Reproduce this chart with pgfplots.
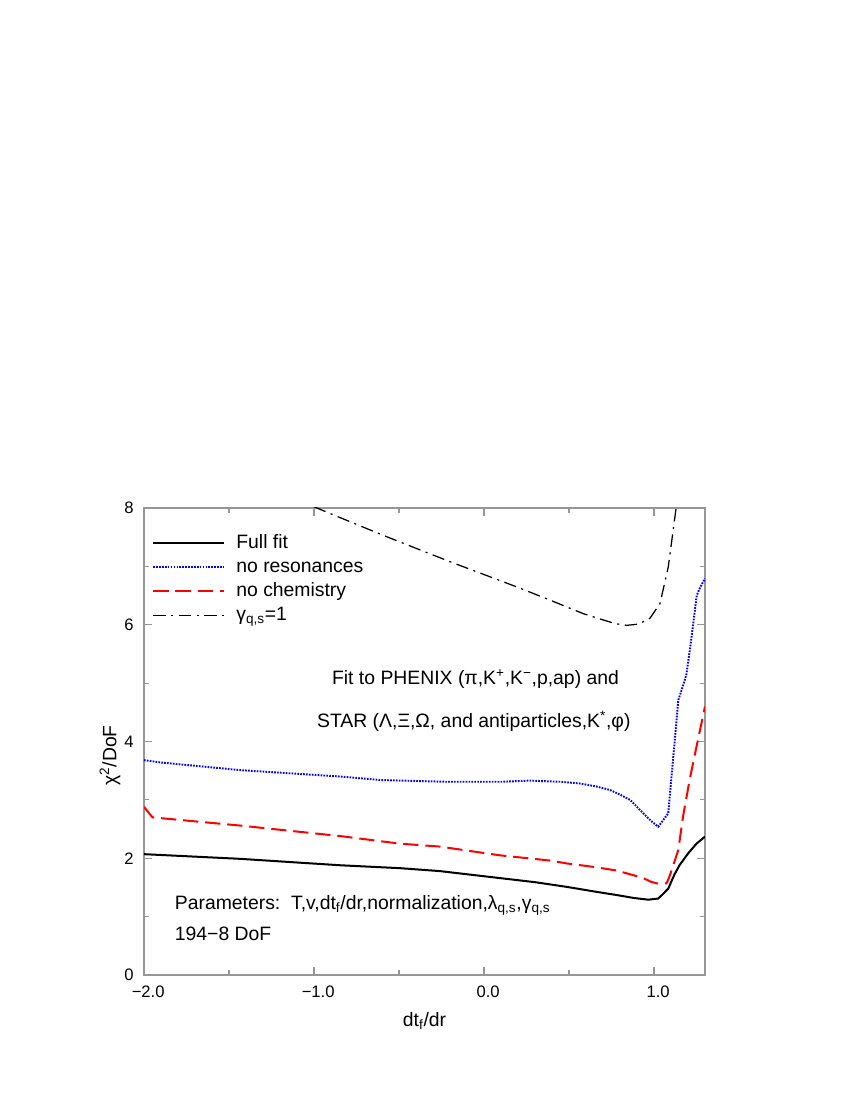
\documentclass[border=0pt]{standalone}
\usepackage{fontspec}
\setmainfont{Liberation Sans}
\usepackage{pgfplots}
\pgfplotsset{compat=1.18}
\definecolor{axgray}{RGB}{150,150,150}
\definecolor{curveblue}{RGB}{0,0,255}
\definecolor{curvered}{RGB}{255,0,0}

\begin{document}
\begin{tikzpicture}[font=\fontsize{14}{16.5}\selectfont]
\begin{axis}[
  scale only axis,
  width=5.61in, height=4.67in,
  xmin=-2, xmax=1.3, ymin=0, ymax=8,
  xtick={-2,-1,0,1},
  xticklabels={−2.0,−1.0,0.0,1.0},
  minor xtick={-1.5,-0.5,0.5},
  ytick={0,2,4,6,8},
  yticklabels={0,2,4,6,8},
  minor ytick={1,3,5,7},
  tick align=inside,
  major tick length=6pt, minor tick length=3.5pt,
  every tick/.style={axgray, line width=0.8pt},
  axis line style={axgray, line width=1pt},
  ticklabel style={font=\fontsize{12}{14}\selectfont},
  xticklabel style={yshift=-4pt, xshift=3pt},
  yticklabel style={xshift=-4pt},
  xlabel={dt\textsubscript{f}/dr},
  ylabel={χ\textsuperscript{2}/DoF},
  every axis x label/.style={at={(rel axis cs:0.5,-0.0985)}, anchor=center},
  every axis y label/.style={at={(rel axis cs:-0.0606,0.47)}, anchor=center, rotate=90},
  legend style={at={(rel axis cs:0,1)}, anchor=north west, xshift=0.08in, yshift=-0.26in,
    draw=none, fill=none, inner sep=0pt, row sep=4.4pt, column sep=8pt,
    nodes={inner sep=0pt, text height=10pt, text depth=3pt},
    font=\fontsize{14}{16.5}\selectfont},
  legend cell align=left,
  legend image code/.code={\draw[#1] (0in,0in) -- (0.71in,0in);},
]
\coordinate (O) at (rel axis cs:0,0);

\addplot[black, line width=1.45pt] coordinates {
(-2.0,2.07) (-1.435,1.99) (-0.847,1.88) (-0.494,1.83) (-0.26,1.78) (0.094,1.66)
(0.30,1.59) (0.486,1.51) (0.65,1.43) (0.78,1.37) (0.88,1.32) (0.937,1.30) (0.967,1.29)
(1.025,1.31) (1.05,1.38) (1.084,1.48) (1.12,1.72) (1.15,1.88) (1.20,2.08) (1.25,2.25) (1.3,2.37)};
\addlegendentry{Full fit}

\addplot[curveblue, line width=1.4pt, dash pattern=on 1.2pt off 0.9pt] coordinates {
(-2.0,3.68) (-1.9,3.64) (-1.435,3.51) (-0.847,3.40) (-0.612,3.34) (-0.22,3.31)
(0.10,3.31) (0.27,3.33) (0.45,3.31) (0.565,3.28) (0.66,3.23) (0.741,3.17) (0.80,3.09)
(0.859,3.00) (0.90,2.88) (0.947,2.74) (0.99,2.62) (1.025,2.54) (1.084,2.77)
(1.143,4.71) (1.17,4.95) (1.19,5.14) (1.21,5.55) (1.231,6.02) (1.251,6.50) (1.275,6.66) (1.3,6.79)};
\addlegendentry{no resonances}

\addplot[curvered, line width=1.45pt, dash pattern=on 11pt off 5pt] coordinates {
(-2.0,2.88) (-1.95,2.70) (-1.435,2.56) (-0.847,2.38) (-0.494,2.25) (-0.26,2.20)
(0.094,2.05) (0.39,1.96) (0.49,1.91) (0.65,1.85) (0.78,1.79) (0.878,1.71) (0.937,1.66)
(0.98,1.60) (1.015,1.57) (1.074,1.57) (1.094,1.71) (1.143,2.14) (1.17,2.70) (1.21,3.35)
(1.26,4.05) (1.3,4.60)};
\addlegendentry{no chemistry}

\addplot[black, line width=0.9pt, dash pattern=on 9pt off 4pt on 1.5pt off 4pt] coordinates {
(-1.0,8.02) (-0.6,7.54) (-0.2,7.08) (0.2,6.64) (0.39,6.42) (0.584,6.19) (0.682,6.10)
(0.77,6.02) (0.84,5.99) (0.908,6.01) (0.976,6.11) (1.035,6.36) (1.084,6.99) (1.13,8.0) (1.15,8.6)};
\addlegendentry{γ\textsubscript{q,s}=1}

\node[anchor=center, inner sep=0pt] at (axis cs:-0.05,5.07)
  {Fit to PHENIX (π,K\textsuperscript{+},K\textsuperscript{−},p,ap) and};
\node[anchor=center, inner sep=0pt] at (axis cs:-0.06,4.35)
  {STAR (Λ,Ξ,Ω, and antiparticles,K\textsuperscript{*},φ)};
\node[anchor=west, inner sep=0pt] at (axis cs:-1.82,1.19)
  {Parameters:\ \ T,v,dt\textsubscript{f}/dr,normalization,λ\textsubscript{q,s},γ\textsubscript{q,s}};
\node[anchor=west, inner sep=0pt] at (axis cs:-1.82,0.71) {194−8 DoF};
\end{axis}
\path (O) ++(-1.44in,-1.25in) rectangle ++(8.5in,11in);
\end{tikzpicture}
\end{document}
